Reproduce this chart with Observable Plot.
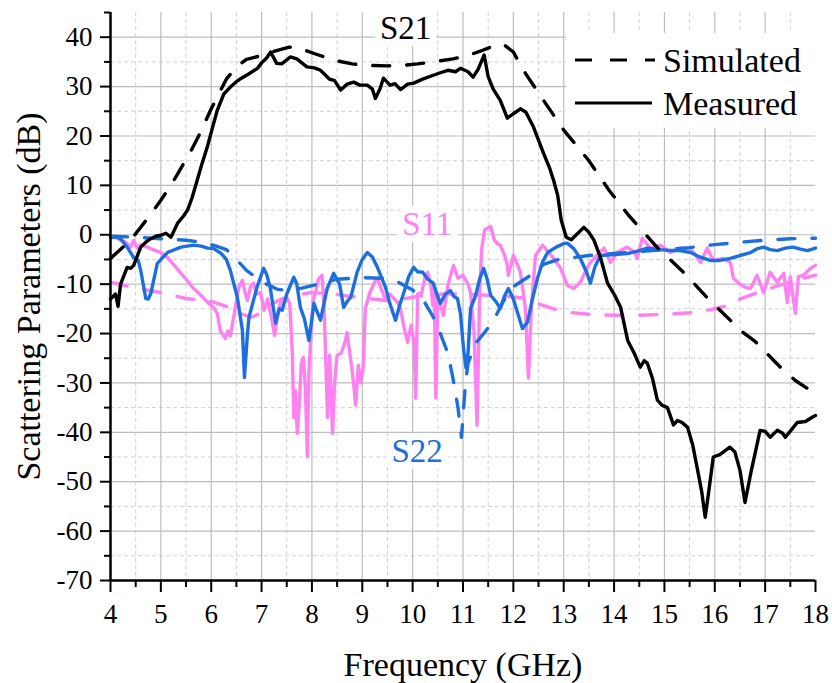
<!DOCTYPE html>
<html>
<head>
<meta charset="utf-8">
<script src="https://cdn.jsdelivr.net/npm/d3@7"></script>
<script src="https://cdn.jsdelivr.net/npm/@observablehq/plot@0.6"></script>
<style>
  body { margin: 0; background: #fff; }
  #wrap { position: relative; width: 832px; height: 683px; font-family: "Liberation Serif", "DejaVu Serif", serif; }
  #wrap svg text { font-family: "Liberation Serif", "DejaVu Serif", serif; }
  #legend { position: absolute; left: 566px; top: 33px; width: 250px; height: 95px; background: #fff; }
</style>
</head>
<body>
<div id="wrap"><div id="chart"></div></div>
<script>
// ---- tick values ----
const xMajor = d3.range(4, 18.01, 1);
const xMinor = d3.range(4.5, 18, 1);
const yMajor = d3.range(-70, 40.01, 10);
const yMinor = d3.range(-65, 45.01, 10);
const xGridMajor = d3.range(5, 17.01, 1);
const xGridMinor = d3.range(4.5, 18, 1);
const yGridMajor = d3.range(-60, 40.01, 10);
const yGridMinor = d3.range(-65, 35.01, 10);

// ---- series: [frequency GHz, dB] ----
const s21Sim = [[4.0,-4.8],[4.25,-2.5],[4.5,0.2],[4.75,3.5],[5.0,7],[5.2,10],[5.4,13.5],[5.6,17],[5.8,21],[6.0,25.5],[6.15,28.5],[6.3,31.5],[6.5,34],[6.7,35.5],[7.0,36.3],[7.2,37],[7.55,38],[7.8,37.6],[8.1,36.5],[8.45,35.3],[8.8,34.6],[9.1,34.3],[9.5,34.2],[9.8,34.3],[10.1,34.6],[10.4,35],[10.8,35.6],[11.1,36.3],[11.4,37.4],[11.6,38.2],[11.8,38.6],[12.0,37],[12.2,33.3],[12.6,27.2],[13.0,21.2],[13.5,15],[13.9,9],[14.3,3.8],[14.85,-2.5],[15.4,-7.8],[15.9,-13.3],[16.55,-19.7],[16.8,-21.6],[17.3,-26.8],[17.6,-29.5],[18.0,-32.2]];

const s21Meas = [[4.0,-13],[4.05,-12.5],[4.1,-12],[4.15,-14.5],[4.2,-10],[4.33,-6.6],[4.4,-6.8],[4.46,-6.2],[4.6,-2.5],[4.7,-1.5],[4.8,-0.8],[4.9,-0.3],[5.0,-0.1],[5.1,0.3],[5.2,-0.5],[5.33,2.3],[5.45,3.8],[5.53,5],[5.62,7.5],[5.72,11],[5.82,14.5],[5.92,17.7],[6.02,21.5],[6.12,25.2],[6.25,28.5],[6.38,29.9],[6.5,31],[6.6,31.7],[6.75,32.6],[6.92,33.7],[7.0,34.8],[7.1,35.8],[7.18,37],[7.3,34.7],[7.4,34.6],[7.57,36],[7.7,35.6],[7.9,34],[8.05,33.8],[8.17,33.3],[8.35,31.5],[8.45,31.2],[8.57,29.3],[8.7,30.5],[8.83,30.9],[8.95,30.3],[9.1,30.3],[9.2,29.5],[9.26,27.6],[9.35,29.5],[9.42,31.7],[9.55,30.3],[9.65,30.6],[9.76,29.4],[9.9,30.5],[10.02,30.7],[10.2,31.5],[10.41,32.3],[10.55,32.8],[10.7,33.3],[10.85,33],[10.95,33.7],[11.1,33],[11.2,31.9],[11.3,33.5],[11.42,36.4],[11.5,32],[11.6,29.5],[11.74,27.2],[11.88,23.6],[12.0,24.5],[12.14,25.5],[12.25,24.8],[12.4,21.8],[12.6,16.5],[12.72,13.5],[12.8,11],[12.88,8],[12.95,3],[13.05,-0.5],[13.15,-1],[13.25,0],[13.4,1.5],[13.5,0.5],[13.6,-1.1],[13.73,-4.6],[13.87,-9.8],[14.0,-12],[14.13,-14.7],[14.27,-21.4],[14.4,-24],[14.52,-26.8],[14.6,-25.5],[14.66,-26],[14.76,-29],[14.86,-33.5],[14.95,-34.5],[15.06,-35],[15.18,-38.5],[15.26,-37.6],[15.35,-38],[15.46,-39],[15.56,-42.5],[15.66,-47.7],[15.74,-52],[15.81,-57.2],[15.88,-52],[15.97,-45],[16.1,-44.5],[16.3,-43],[16.4,-44],[16.5,-47.7],[16.6,-54.2],[16.72,-48],[16.9,-39.6],[17.0,-39.8],[17.1,-41],[17.24,-39.6],[17.35,-40.2],[17.4,-41],[17.52,-39.5],[17.64,-38],[17.8,-37.8],[17.96,-36.8],[18.0,-36.6]];

const s11Sim = [[4.0,-9.6],[4.5,-10.8],[5.0,-11.7],[5.5,-12.9],[6.0,-13.5],[6.3,-14.5],[6.6,-16],[6.8,-16.7],[7.0,-15.8],[7.2,-14],[7.4,-13],[7.7,-12.2],[8.0,-11.7],[8.4,-12],[8.8,-12.5],[9.2,-13],[9.5,-13.3],[9.8,-13],[10.2,-12.3],[10.6,-12],[11.0,-12],[11.4,-12.2],[11.8,-12.4],[12.2,-12.8],[12.5,-14],[12.8,-15],[13.1,-15.7],[13.5,-16.1],[14.0,-16.3],[14.5,-16.3],[15.0,-16.1],[15.5,-15.8],[15.9,-15.2],[16.2,-14.5],[16.5,-13],[16.8,-11.9],[17.2,-10.5],[17.6,-9.2],[18.0,-8.2]];

const s11Meas = [[4.0,-0.6],[4.1,-0.5],[4.2,-1.1],[4.3,-1.5],[4.4,-2.5],[4.46,-1.1],[4.53,-2.7],[4.6,-2],[4.73,-2.5],[4.85,-3],[5.0,-3.6],[5.13,-4.6],[5.25,-6],[5.4,-7.8],[5.52,-9.2],[5.65,-10.9],[5.8,-12.3],[5.93,-13.7],[6.05,-14.8],[6.12,-15.9],[6.18,-19.4],[6.28,-21],[6.33,-19.5],[6.38,-20.5],[6.44,-17],[6.48,-14.7],[6.55,-10.6],[6.62,-9.2],[6.68,-12],[6.72,-13.3],[6.78,-10.5],[6.84,-9.8],[6.9,-12],[6.98,-11.7],[7.05,-15.3],[7.12,-13],[7.2,-17],[7.26,-20.4],[7.32,-16],[7.4,-13],[7.51,-12.9],[7.56,-14],[7.61,-23.8],[7.64,-37],[7.67,-31.5],[7.71,-40.2],[7.75,-34],[7.79,-26],[7.83,-24.8],[7.87,-31],[7.91,-44.9],[7.94,-28],[7.98,-20],[8.03,-13],[8.07,-11.7],[8.13,-9],[8.2,-8.2],[8.24,-14.3],[8.27,-23.8],[8.31,-37],[8.35,-24.4],[8.41,-40.2],[8.45,-30],[8.5,-24.4],[8.58,-24],[8.65,-22],[8.7,-19.8],[8.75,-23.8],[8.8,-27.5],[8.87,-34.5],[8.92,-26.4],[8.97,-30],[9.02,-26.8],[9.06,-14.9],[9.15,-11.7],[9.25,-9.5],[9.3,-8.8],[9.38,-11],[9.45,-12.9],[9.55,-12],[9.7,-13.7],[9.76,-15],[9.82,-18.3],[9.9,-21.8],[9.97,-18.3],[10.03,-22],[10.06,-33.1],[10.1,-12],[10.18,-11.7],[10.25,-8.5],[10.3,-7.6],[10.36,-10],[10.4,-14.3],[10.43,-11],[10.46,-33],[10.5,-12.3],[10.61,-16.3],[10.7,-10.2],[10.81,-6.2],[10.9,-8.8],[11.0,-8.2],[11.1,-10],[11.15,-11.7],[11.22,-19.8],[11.28,-38.6],[11.33,-12],[11.37,-3],[11.43,1],[11.55,1.7],[11.62,-1],[11.68,-1.8],[11.74,-2.1],[11.82,-4],[11.87,-5.6],[11.9,-8.2],[12.0,-4.2],[12.08,-6],[12.14,-7.6],[12.24,-14.9],[12.3,-29],[12.36,-14.3],[12.44,-4.2],[12.58,-2.1],[12.7,-3.5],[12.8,-4.8],[12.94,-6.8],[13.07,-10.2],[13.2,-10.9],[13.33,-9.6],[13.45,-7],[13.53,-5.6],[13.66,-4.2],[13.8,-2.7],[13.93,-5.6],[14.06,-3.6],[14.26,-2.5],[14.4,-3.5],[14.46,-4.8],[14.56,-0.7],[14.72,-2.7],[14.92,-2.1],[15.12,-3.6],[15.32,-2.7],[15.5,-2.8],[15.58,-3.6],[15.72,-5.6],[15.85,-2.7],[15.97,-5.2],[16.17,-4.8],[16.31,-5.6],[16.37,-8.8],[16.5,-10],[16.6,-10.6],[16.71,-10.9],[16.84,-8.2],[16.97,-11.7],[17.1,-7.6],[17.24,-9.6],[17.37,-7.8],[17.44,-13.7],[17.5,-8.5],[17.6,-15.9],[17.66,-8.5],[17.76,-8.2],[17.9,-6.8],[18.0,-6.2]];

const s22Sim = [[4.0,-0.3],[4.5,-0.5],[5.0,-0.8],[5.5,-1.1],[5.8,-1.5],[6.1,-2.3],[6.3,-3],[6.5,-5],[6.7,-7.2],[7.0,-9.5],[7.3,-11],[7.5,-11.3],[7.8,-10.8],[8.2,-9.8],[8.5,-9],[9.0,-8.7],[9.4,-8.8],[9.7,-9.5],[10.0,-11.2],[10.2,-13],[10.4,-16.5],[10.55,-20],[10.7,-24],[10.8,-29],[10.9,-35],[10.97,-41],[11.05,-30],[11.1,-26],[11.25,-22],[11.45,-19.5],[11.6,-17.5],[11.8,-13.5],[12.0,-10.5],[12.3,-8.5],[12.6,-6],[12.9,-5],[13.5,-4.2],[14.0,-3.8],[14.5,-3.4],[15.0,-3],[15.5,-2.6],[16.0,-2],[16.5,-1.5],[17.0,-1.1],[17.5,-0.8],[18.0,-0.7]];

const s22Meas = [[4.0,-0.5],[4.1,-0.4],[4.2,-0.8],[4.33,-2.5],[4.46,-4.6],[4.55,-5.2],[4.6,-7.2],[4.7,-12.9],[4.75,-13],[4.8,-11.9],[4.93,-5.8],[5.13,-3.6],[5.4,-2.5],[5.65,-2.1],[5.8,-2.3],[5.93,-2.7],[6.05,-2.8],[6.2,-3.8],[6.3,-5],[6.38,-7.2],[6.52,-12.7],[6.62,-19.4],[6.66,-28.9],[6.72,-20],[6.75,-16.7],[6.91,-10.6],[7.04,-6.8],[7.1,-8],[7.17,-10.6],[7.28,-17.9],[7.35,-15],[7.41,-15.3],[7.5,-12],[7.64,-8.6],[7.7,-10],[7.77,-14.7],[7.85,-17],[7.94,-21.4],[8.04,-13.9],[8.1,-15.5],[8.17,-17.3],[8.3,-11],[8.43,-7.8],[8.55,-10],[8.63,-14.7],[8.7,-13.5],[8.77,-12.7],[8.9,-7.5],[9.0,-5],[9.1,-3.6],[9.2,-4.5],[9.3,-6.6],[9.46,-10.6],[9.55,-14],[9.66,-17.3],[9.75,-14],[9.82,-11.9],[9.92,-8.5],[10.02,-6.6],[10.1,-7.5],[10.2,-7.6],[10.3,-9],[10.41,-9.8],[10.48,-12],[10.55,-13.9],[10.65,-12],[10.75,-11.3],[10.82,-12.5],[10.89,-12.9],[10.95,-16],[11.01,-23],[11.06,-27],[11.1,-24],[11.15,-14.9],[11.25,-12.3],[11.33,-9],[11.41,-6.8],[11.48,-9],[11.55,-12.3],[11.65,-13.5],[11.74,-14.9],[11.82,-12.5],[11.9,-10.9],[12.0,-13],[12.08,-15.7],[12.18,-19],[12.28,-17.7],[12.38,-13],[12.48,-8.8],[12.58,-5.5],[12.68,-3.6],[12.85,-2.5],[13.0,-1.8],[13.07,-1.7],[13.2,-2.8],[13.33,-4.8],[13.45,-7.5],[13.53,-9.8],[13.62,-6.5],[13.73,-4.2],[14.0,-4],[14.27,-3.8],[14.5,-3.2],[14.66,-2.7],[14.9,-3],[15.12,-3.2],[15.3,-3.2],[15.52,-3.6],[15.7,-4.5],[15.91,-5.2],[16.1,-5.2],[16.31,-4.8],[16.5,-4.2],[16.71,-3.6],[16.85,-2.8],[16.97,-2.5],[17.1,-3],[17.24,-3.2],[17.4,-2.7],[17.56,-2.5],[17.7,-2.9],[17.84,-3.2],[18.0,-2.7]];

// ---- annotation labels ----
const labelText = ["S21", "S11", "S22"];
const labelF = [9.86, 10.29, 10.09];
const labelDb = [39.7, 0.0, -46.1];
const legendNames = ["Simulated", "Measured"];

const PINK = "#ff80f0";
const BLUE = "#1c6fdc";
const labelColors = ["#000000", PINK, BLUE];
const labels = labelText.map((t, i) => ({t, f: labelF[i], db: labelDb[i], c: labelColors[i]}));

const FONT = '"Liberation Serif", "DejaVu Serif", serif';

const chart = Plot.plot({
  width: 832,
  height: 683,
  marginLeft: 110,
  marginRight: 17,
  marginTop: 12,
  marginBottom: 103,
  style: {fontFamily: FONT, fontSize: "27px", color: "#000", background: "#fff", overflow: "visible"},
  x: {domain: [4, 18]},
  y: {domain: [-70, 45]},
  marks: [
    Plot.gridX({ticks: xGridMinor, stroke: "#d2d2d2", strokeOpacity: 1, strokeWidth: 1, strokeDasharray: "4,3"}),
    Plot.gridY({ticks: yGridMinor, stroke: "#d2d2d2", strokeOpacity: 1, strokeWidth: 1, strokeDasharray: "4,3"}),
    Plot.gridX({ticks: xGridMajor, stroke: "#bdbdbd", strokeOpacity: 1, strokeWidth: 1.2}),
    Plot.gridY({ticks: yGridMajor, stroke: "#bdbdbd", strokeOpacity: 1, strokeWidth: 1.2}),
    // label halos / text
    Plot.text(labels, {x: "f", y: "db", text: "t", fill: "c", lineAnchor: "bottom", textAnchor: "middle",
      fontSize: 33, stroke: "#fff", strokeWidth: 14, strokeLinejoin: "round"}),
    // curves
    Plot.line(s11Sim, {x: d => d[0], y: d => d[1], stroke: PINK, strokeWidth: 3.4, strokeDasharray: "17,17"}),
    Plot.line(s11Meas, {x: d => d[0], y: d => d[1], stroke: PINK, strokeWidth: 3.4, strokeLinejoin: "round"}),
    Plot.line(s22Sim, {x: d => d[0], y: d => d[1], stroke: BLUE, strokeWidth: 3.4, strokeDasharray: "17,17"}),
    Plot.line(s22Meas, {x: d => d[0], y: d => d[1], stroke: BLUE, strokeWidth: 3.4, strokeLinejoin: "round"}),
    Plot.line(s21Sim, {x: d => d[0], y: d => d[1], stroke: "#000", strokeWidth: 3.4, strokeDasharray: "17,17"}),
    Plot.line(s21Meas, {x: d => d[0], y: d => d[1], stroke: "#000", strokeWidth: 3.4, strokeLinejoin: "round"}),
    // axes
    Plot.axisY({ticks: yMinor, tickSize: 6, tickFormat: () => "", strokeWidth: 2, label: null}),
    Plot.axisY({ticks: yMajor, tickSize: 10, tickPadding: 8, strokeWidth: 2, fontSize: 27,
      tickFormat: d => String(d), label: null}),
    Plot.axisX({ticks: xMinor, tickSize: 7, tickFormat: () => "", strokeWidth: 2, label: null}),
    Plot.axisX({ticks: xMajor, tickSize: 12, tickPadding: 11, strokeWidth: 2, fontSize: 27,
      tickFormat: d => String(d), label: null}),
    Plot.ruleX([4], {y1: -70, y2: 45, stroke: "#000", strokeWidth: 2.5}),
    Plot.ruleY([-70], {x1: 4, x2: 18, stroke: "#000", strokeWidth: 2.5}),
    // axis titles
    Plot.text(["Frequency (GHz)"], {frameAnchor: "bottom", dy: 95, lineAnchor: "bottom", textAnchor: "middle", fontSize: 34, fill: "#000"}),
    Plot.text(["Scattering Parameters (dB)"], {frameAnchor: "left", dx: -81, rotate: -90, lineAnchor: "middle", textAnchor: "middle", fontSize: 34, fill: "#000"})
  ]
});
document.getElementById("chart").appendChild(chart);

// legend overlay
const lg = document.createElement("div");
lg.id = "legend";
const ns = "http://www.w3.org/2000/svg";
const svg = document.createElementNS(ns, "svg");
svg.setAttribute("width", 250); svg.setAttribute("height", 95);
const styles = ["17,18", null];
legendNames.forEach((name, i) => {
  const yy = i === 0 ? 27 : 70;
  const ln = document.createElementNS(ns, "line");
  ln.setAttribute("x1", 9); ln.setAttribute("x2", i === 0 ? 89 : 86);
  ln.setAttribute("y1", yy); ln.setAttribute("y2", yy);
  ln.setAttribute("stroke", "#000"); ln.setAttribute("stroke-width", 3.2);
  if (styles[i]) ln.setAttribute("stroke-dasharray", styles[i]);
  svg.appendChild(ln);
  const tx = document.createElementNS(ns, "text");
  tx.setAttribute("x", 97); tx.setAttribute("y", yy + 12);
  tx.setAttribute("font-size", 34);
  tx.setAttribute("fill", "#000");
  tx.textContent = name;
  svg.appendChild(tx);
});
lg.appendChild(svg);
document.getElementById("wrap").appendChild(lg);
</script>
</body>
</html>
